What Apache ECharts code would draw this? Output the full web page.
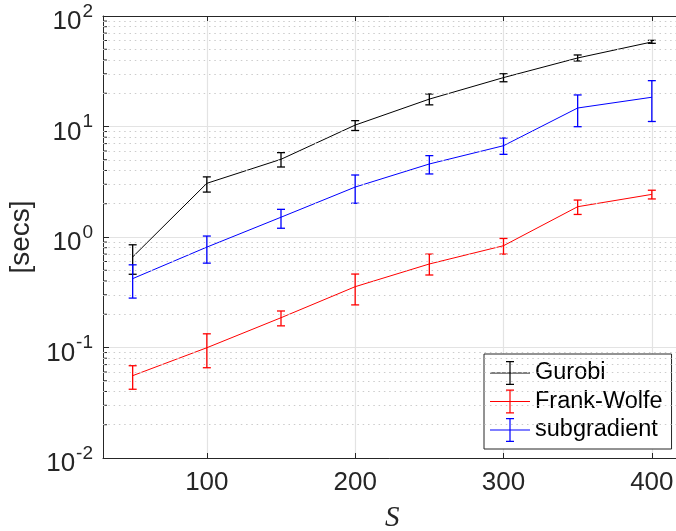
<!DOCTYPE html>
<html><head><meta charset="utf-8">
<script src="https://cdn.jsdelivr.net/npm/echarts@6/dist/echarts.min.js"></script>
<style>html,body{margin:0;padding:0;background:#fff}#c{width:676px;height:531px}</style>
</head><body><div id="c"></div>
<script>
const sizes = [50, 100, 150, 200, 250, 300, 350, 400];
const gurobiMean = [0.66, 3.06, 5.05, 10.3, 17.7, 27.7, 41.7, 58.2];
const gurobiLow  = [0.46, 2.55, 4.3, 9.2, 15.7, 25.4, 39.2, 56.6];
const gurobiHigh = [0.85, 3.5, 5.8, 11.3, 19.7, 30.0, 44.4, 60.2];
const fwMean = [0.0556, 0.0995, 0.186, 0.355, 0.57, 0.834, 1.88, 2.43];
const fwLow  = [0.0419, 0.0656, 0.157, 0.243, 0.453, 0.70, 1.6, 2.21];
const fwHigh = [0.0684, 0.133, 0.214, 0.462, 0.70, 0.97, 2.16, 2.65];
const sgMean = [0.42, 0.81, 1.51, 2.83, 4.58, 6.7, 14.7, 18.4];
const sgLow  = [0.28, 0.58, 1.2, 2.02, 3.72, 5.6, 9.96, 11.1];
const sgHigh = [0.56, 1.02, 1.78, 3.64, 5.45, 7.87, 19.3, 26.0];
const xTicks = [100, 200, 300, 400];
const yDecades = [0.01, 0.1, 1, 10];
const minorMult = [2, 3, 4, 5, 6, 7, 8, 9];
const X_MIN = 30, X_MAX = 420;

const minorTicks = [];
yDecades.forEach(d => minorMult.forEach(m => minorTicks.push(+(d * m).toPrecision(3))));

const FONT = 'Liberation Sans';
const AX = '#262626';

function pairs(xs, ys) { return xs.map((x, i) => [x, ys[i]]); }
function triples(xs, lo, hi) { return xs.map((x, i) => [x, lo[i], hi[i]]); }

function errRender(color) {
  return function (params, api) {
    const x = api.value(0), lo = api.value(1), hi = api.value(2);
    const p1 = api.coord([x, lo]), p2 = api.coord([x, hi]);
    const w = 4;
    const st = { stroke: color, lineWidth: 1.3, fill: null };
    return {
      type: 'group',
      children: [
        { type: 'line', shape: { x1: p1[0], y1: p1[1], x2: p2[0], y2: p2[1] }, style: st },
        { type: 'line', shape: { x1: p1[0] - w, y1: p1[1], x2: p1[0] + w, y2: p1[1] }, style: st },
        { type: 'line', shape: { x1: p2[0] - w, y1: p2[1], x2: p2[0] + w, y2: p2[1] }, style: st }
      ]
    };
  };
}

function minorTickRender(params, api) {
  const v = api.value(0);
  const p = api.coord([X_MIN, v]);
  return {
    type: 'line',
    shape: { x1: p[0], y1: p[1], x2: p[0] + 4, y2: p[1] },
    style: { stroke: AX, lineWidth: 1 }
  };
}

const icon = 'path://M0,11.5H40V12.5H0Z M19.4,0H20.6V24H19.4Z M16,0H24V1.3H16Z M16,22.7H24V24H16Z';

const names = ['Gurobi', 'Frank-Wolfe', 'subgradient'];
const colors = ['#000000', '#ff0000', '#0000ff'];
const means = [gurobiMean, fwMean, sgMean];
const lows = [gurobiLow, fwLow, sgLow];
const highs = [gurobiHigh, fwHigh, sgHigh];

const series = [
  {
    type: 'line', name: '_grid', data: [], silent: true,
    markLine: {
      silent: true, symbol: 'none', animation: false,
      label: { show: false },
      lineStyle: { type: [1.5, 3.8], color: '#cccccc', width: 1 },
      emphasis: { disabled: true },
      data: minorTicks.map(v => ({ yAxis: v }))
    }
  },
  {
    type: 'custom', name: '_minor', silent: true, renderItem: minorTickRender,
    data: minorTicks.map(v => [v]), encode: { y: 0 }, clip: false
  }
];
names.forEach((n, k) => {
  series.push({
    type: 'line', name: n, data: pairs(sizes, means[k]), symbol: 'none',
    lineStyle: { color: colors[k], width: 1 }, itemStyle: { color: colors[k] },
    color: colors[k], silent: true
  });
  series.push({
    type: 'custom', name: n, renderItem: errRender(colors[k]),
    data: triples(sizes, lows[k], highs[k]), encode: { x: 0, y: [1, 2] },
    itemStyle: { color: colors[k] }, silent: true
  });
});

const option = {
  animation: false,
  backgroundColor: '#fff',
  grid: { left: 103, top: 16, right: -5.5, bottom: 73, containLabel: false, outerBoundsMode: 'none' },
  xAxis: [{
    type: 'value', min: X_MIN, max: X_MAX, position: 'bottom',
    axisLine: { show: true, onZero: false, lineStyle: { color: AX, width: 1 } },
    axisTick: { show: true, inside: true, length: 5, customValues: xTicks, lineStyle: { color: AX } },
    axisLabel: { customValues: xTicks, fontFamily: FONT, fontSize: 26, color: AX, margin: 12 },
    splitLine: { show: true, lineStyle: { color: '#e3e3e3', width: 1.2 } },
    name: 'S', nameLocation: 'middle', nameGap: 46,
    nameTextStyle: { fontFamily: 'Liberation Serif', fontStyle: 'italic', fontSize: 29, color: AX }
  }, {
    type: 'value', min: X_MIN, max: X_MAX, position: 'top',
    axisLine: { show: true, onZero: false, lineStyle: { color: AX, width: 1 } },
    axisTick: { show: true, inside: true, length: 5, customValues: xTicks, lineStyle: { color: AX } },
    axisLabel: { show: false }, splitLine: { show: false }
  }],
  yAxis: {
    type: 'log', logBase: 10, min: 0.01, max: 100,
    axisLine: { show: true, onZero: false, lineStyle: { color: AX, width: 1 } },
    axisTick: { show: true, inside: true, length: 6, lineStyle: { color: AX } },
    splitLine: { show: true, lineStyle: { color: '#e3e3e3', width: 1.2 } },
    axisLabel: {
      margin: 10, color: AX, fontFamily: FONT,
      formatter: v => '{b|10}{s|' + Math.round(Math.log10(v)) + '}',
      rich: {
        b: { fontFamily: FONT, fontSize: 26, color: AX, height: 26, lineHeight: 38, verticalAlign: 'bottom' },
        s: { fontFamily: FONT, fontSize: 19, color: AX, height: 19, lineHeight: 19, padding: [5, 0, 0, 1], verticalAlign: 'top' }
      }
    },
    name: '[secs]', nameLocation: 'middle', nameGap: 63,
    nameTextStyle: { fontFamily: FONT, fontSize: 28, color: AX }
  },
  legend: {
    show: true, orient: 'vertical', left: 484, top: 354,
    padding: [7, 9, 7, 6], itemWidth: 40, itemHeight: 24, itemGap: 4.5,
    backgroundColor: '#fff', borderColor: AX, borderWidth: 1, borderRadius: 0,
    selectedMode: false,
    textStyle: { fontFamily: FONT, fontSize: 23.5, color: '#000' },
    data: names.map((n, k) => ({ name: n, icon: icon, itemStyle: { color: colors[k] } }))
  },
  series: series
};

const chart = echarts.init(document.getElementById('c'), null, { renderer: 'canvas' });
chart.setOption(option);
</script>
</body></html>
